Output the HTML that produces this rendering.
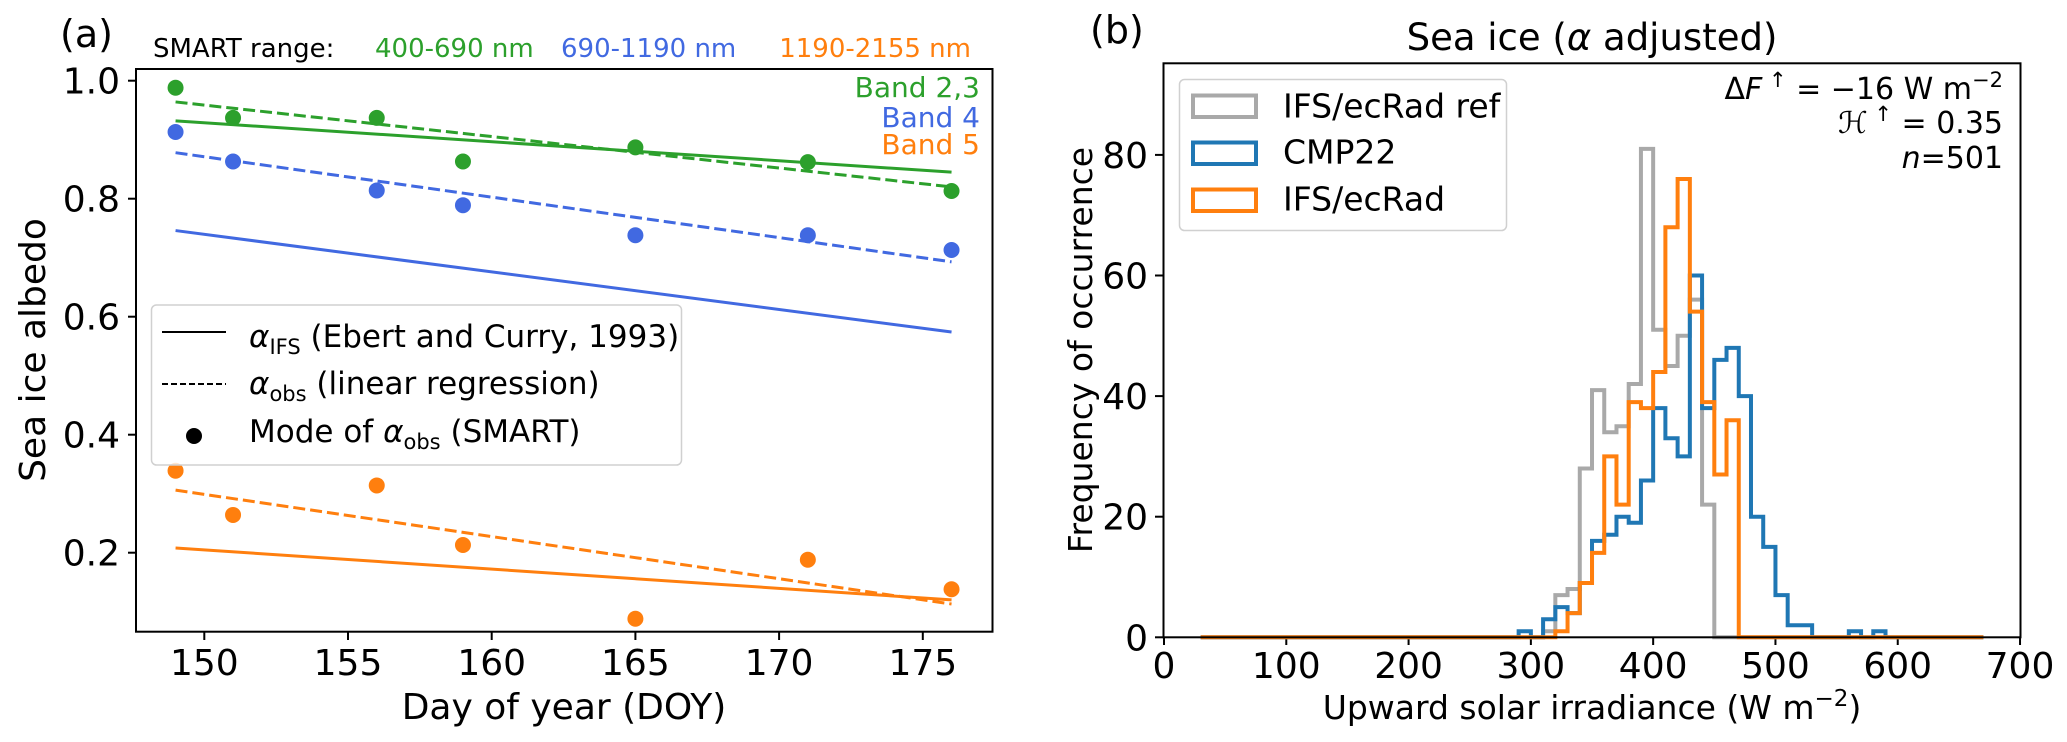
<!DOCTYPE html>
<html><head><meta charset="utf-8"><style>
html,body{margin:0;padding:0;background:#fff;}
svg{display:block;font-family:"DejaVu Sans","Liberation Sans",sans-serif;}
</style></head><body>
<svg id="fig" width="2067" height="742" viewBox="0 0 2067 742" xmlns="http://www.w3.org/2000/svg">
<rect width="2067" height="742" fill="#fff"/>
<g id="left"></g>
<g id="right"></g>
</svg>
<script>
// ---------- Panel (a) data ----------
const days = [149, 151, 156, 159, 165, 171, 176];
const greenObs = [0.988, 0.937, 0.937, 0.863, 0.887, 0.862, 0.813];
const blueObs = [0.913, 0.863, 0.814, 0.789, 0.738, 0.738, 0.713];
const orangeObs = [0.339, 0.264, 0.314, 0.213, 0.088, 0.188, 0.138];
const lineDays = [149, 176];
const greenIFS = [0.932, 0.845];
const blueIFS = [0.746, 0.574];
const orangeIFS = [0.208, 0.120];
const greenReg = [0.964, 0.820];
const blueReg = [0.878, 0.693];
const orangeReg = [0.306, 0.113];
const xTicksA = [150, 155, 160, 165, 170, 175];
const yTicksA = [0.2, 0.4, 0.6, 0.8, 1.0];
const yTickLabelsA = ["0.2", "0.4", "0.6", "0.8", "1.0"];

// ---------- Panel (b) data ----------
const binStart = 290;
const binWidth = 10;
const histRange = [30, 670];
const grayCounts = [0,0,1,7,8,28,41,34,35,42,81,51,45,50,56,22];
const blueCounts = [1,0,3,5,4,9,16,17,20,19,26,38,33,30,60,38,46,48,40,20,15,7,2,2,0,0,0,1,0,1];
const orangeCounts = [0,0,0,1,4,9,14,30,22,39,38,44,68,76,54,39,27,36];
const xTicksB = [0, 100, 200, 300, 400, 500, 600, 700];
const yTicksB = [0, 20, 40, 60, 80];

const NS = "http://www.w3.org/2000/svg";
function mk(parent, tag, attrs, text) {
  const e = document.createElementNS(NS, tag);
  for (const k in attrs) e.setAttribute(k, attrs[k]);
  if (text !== undefined) e.textContent = text;
  parent.appendChild(e);
  return e;
}
const L = document.getElementById("left");
const R = document.getElementById("right");

const xL = d => 204.3 + (d - 150) * 28.74;
const yL = v => 80.7 + (1 - v) * 590;
const xR = w => 1164 + w * 1.2229;
const yR = c => 637.3 - c * 6.03;

const GREEN = "#2ca02c", BLUE = "#4169e1", ORANGE = "#ff7f0e";

let t;
t = mk(L, "text", {x: 60, y: 47, "font-size": 38}, "(a)");


t = mk(L, "text", {x: 153, y: 57, "font-size": 26, fill: "#000"}, "SMART range:");


t = mk(L, "text", {x: 375, y: 57, "font-size": 26, fill: GREEN}, "400-690 nm");


t = mk(L, "text", {x: 561, y: 57, "font-size": 26, fill: BLUE}, "690-1190 nm");


t = mk(L, "text", {x: 971, y: 57, "font-size": 26, fill: ORANGE, "text-anchor": "end"}, "1190-2155 nm");



xTicksA.forEach(d => {
  const tk = mk(L, "line", {x1: xL(d), x2: xL(d), y1: 632, y2: 640, stroke: "#000", "stroke-width": 2});
  
  
  const lb = mk(L, "text", {x: xL(d), y: 675, "font-size": 36, "text-anchor": "middle"}, String(d));
  
  
});
yTicksA.forEach((v, i) => {
  const tk = mk(L, "line", {x1: 128, x2: 136, y1: yL(v), y2: yL(v), stroke: "#000", "stroke-width": 2});
  
  
  const lb = mk(L, "text", {x: 120, y: yL(v) + 13, "font-size": 36, "text-anchor": "end"}, yTickLabelsA[i]);
  
  
});
t = mk(L, "text", {x: 564, y: 719, "font-size": 36, "text-anchor": "middle"}, "Day of year (DOY)");


t = mk(L, "text", {x: 0, y: 0, "font-size": 36, "text-anchor": "middle", transform: "translate(45,350) rotate(-90)"}, "Sea ice albedo");



const bands = [
  {name: "band-2-3", c: GREEN, ifs: greenIFS, reg: greenReg, obs: greenObs},
  {name: "band-4", c: BLUE, ifs: blueIFS, reg: blueReg, obs: blueObs},
  {name: "band-5", c: ORANGE, ifs: orangeIFS, reg: orangeReg, obs: orangeObs}
];
bands.forEach(b => {
  const l1 = mk(L, "line", {x1: xL(lineDays[0]), y1: yL(b.ifs[0]), x2: xL(lineDays[1]), y2: yL(b.ifs[1]), stroke: b.c, "stroke-width": 3});
  
  
  const l2 = mk(L, "line", {x1: xL(lineDays[0]), y1: yL(b.reg[0]), x2: xL(lineDays[1]), y2: yL(b.reg[1]), stroke: b.c, "stroke-width": 3, "stroke-dasharray": "12 5"});
  
  
  b.obs.forEach((v, i) => {
    const p = mk(L, "circle", {cx: xL(days[i]), cy: yL(v), r: 8, fill: b.c});
    
    
  });
});
t = mk(L, "text", {x: 980, y: 97, "font-size": 28, fill: GREEN, "text-anchor": "end"}, "Band 2,3");


t = mk(L, "text", {x: 980, y: 127, "font-size": 28, fill: BLUE, "text-anchor": "end"}, "Band 4");


t = mk(L, "text", {x: 980, y: 154, "font-size": 28, fill: ORANGE, "text-anchor": "end"}, "Band 5");



const lgA = mk(L, "g", {});


mk(lgA, "rect", {x: 151.5, y: 305, width: 530, height: 160, rx: 5, fill: "#fff", "fill-opacity": 0.8, stroke: "#d0d0d0", "stroke-width": 1.5});
mk(lgA, "line", {x1: 162, x2: 226, y1: 332, y2: 332, stroke: "#000", "stroke-width": 2});
mk(lgA, "line", {x1: 162, x2: 226, y1: 384, y2: 384, stroke: "#000", "stroke-width": 2, "stroke-dasharray": "6 3"});
mk(lgA, "circle", {cx: 194, cy: 436, r: 8, fill: "#000"});
const lt1 = mk(lgA, "text", {x: 249, y: 347, "font-size": 31});
lt1.innerHTML = '<tspan font-style="italic">α</tspan><tspan font-size="21" dy="7">IFS</tspan><tspan dy="-7"> (Ebert and Curry, 1993)</tspan>';
const lt2 = mk(lgA, "text", {x: 249, y: 394, "font-size": 31});
lt2.innerHTML = '<tspan font-style="italic">α</tspan><tspan font-size="21" dy="7">obs</tspan><tspan dy="-7"> (linear regression)</tspan>';
const lt3 = mk(lgA, "text", {x: 249, y: 442, "font-size": 31});
lt3.innerHTML = 'Mode of <tspan font-style="italic">α</tspan><tspan font-size="21" dy="7">obs</tspan><tspan dy="-7"> (SMART)</tspan>';

const frameA = mk(L, "rect", {x: 136, y: 69, width: 856.5, height: 562.7, fill: "none", stroke: "#000", "stroke-width": 2});



t = mk(R, "text", {x: 1090, y: 43, "font-size": 38}, "(b)");


const ttl = mk(R, "text", {x: 1592, y: 50, "font-size": 37, "text-anchor": "middle"});
ttl.innerHTML = 'Sea ice (<tspan font-style="italic">α</tspan> adjusted)';



xTicksB.forEach(w => {
  const tk = mk(R, "line", {x1: xR(w), x2: xR(w), y1: 637, y2: 645, stroke: "#000", "stroke-width": 2});
  
  
  const lb = mk(R, "text", {x: xR(w), y: 678, "font-size": 36, "text-anchor": "middle"}, String(w));
  
  
});
yTicksB.forEach(c => {
  const tk = mk(R, "line", {x1: 1155, x2: 1163, y1: yR(c), y2: yR(c), stroke: "#000", "stroke-width": 2});
  
  
  const lb = mk(R, "text", {x: 1148, y: yR(c) + 13, "font-size": 36, "text-anchor": "end"}, String(c));
  
  
});
const xtB = mk(R, "text", {x: 1592, y: 719, "font-size": 33, "text-anchor": "middle"});
xtB.innerHTML = 'Upward solar irradiance (W m<tspan font-size="23" dy="-13">−2</tspan><tspan dy="13">)</tspan>';


t = mk(R, "text", {x: 0, y: 0, "font-size": 33, "text-anchor": "middle", transform: "translate(1092,350) rotate(-90)"}, "Frequency of occurrence");



function histPath(counts) {
  let d = "M" + xR(histRange[0]) + "," + yR(0);
  d += " L" + xR(binStart) + "," + yR(0);
  counts.forEach((c, i) => {
    const x0 = xR(binStart + i * binWidth), x1 = xR(binStart + (i + 1) * binWidth);
    d += " L" + x0 + "," + yR(c) + " L" + x1 + "," + yR(c);
  });
  const end = binStart + counts.length * binWidth;
  d += " L" + xR(end) + "," + yR(0) + " L" + xR(histRange[1]) + "," + yR(0);
  return d;
}
const hists = [
  {name: "hist-ifs-ecrad-ref", c: "#a9a9a9", counts: grayCounts},
  {name: "hist-cmp22", c: "#1f77b4", counts: blueCounts},
  {name: "hist-ifs-ecrad", c: "#ff7f0e", counts: orangeCounts}
];
hists.forEach(h => {
  const p = mk(R, "path", {d: histPath(h.counts), fill: "none", stroke: h.c, "stroke-width": 4, "stroke-linejoin": "miter"});
  
  
});

const lgB = mk(R, "g", {});


mk(lgB, "rect", {x: 1179.5, y: 79.5, width: 327, height: 151, rx: 5, fill: "#fff", "fill-opacity": 0.8, stroke: "#d0d0d0", "stroke-width": 1.5});
const lgItems = [["#a9a9a9", "IFS/ecRad ref", 93.5, 117.3], ["#1f77b4", "CMP22", 140.5, 163.5], ["#ff7f0e", "IFS/ecRad", 187.5, 210.7]];
lgItems.forEach(it => {
  mk(lgB, "rect", {x: 1193, y: it[2] + 2, width: 63, height: 21.5, fill: "none", stroke: it[0], "stroke-width": 4});
  mk(lgB, "text", {x: 1283, y: it[3], "font-size": 33}, it[1]);
});

const an1 = mk(R, "text", {x: 2003, y: 99, "font-size": 30, "text-anchor": "end"});
an1.innerHTML = 'Δ<tspan font-style="italic">F</tspan><tspan font-size="21" dy="-12"> ↑</tspan><tspan dy="12"> = −16 W m</tspan><tspan font-size="21" dy="-12">−2</tspan>';


const an2 = mk(R, "text", {x: 2003, y: 133, "font-size": 30, "text-anchor": "end"});
an2.innerHTML = '<tspan font-style="italic">ℋ</tspan><tspan font-size="21" dy="-12"> ↑</tspan><tspan dy="12"> = 0.35</tspan>';


const an3 = mk(R, "text", {x: 2003, y: 168, "font-size": 30, "text-anchor": "end"});
an3.innerHTML = '<tspan font-style="italic">n</tspan>=501';



const frameB = mk(R, "rect", {x: 1163.5, y: 63.3, width: 857, height: 574, fill: "none", stroke: "#000", "stroke-width": 2});


</script>
</body></html>
